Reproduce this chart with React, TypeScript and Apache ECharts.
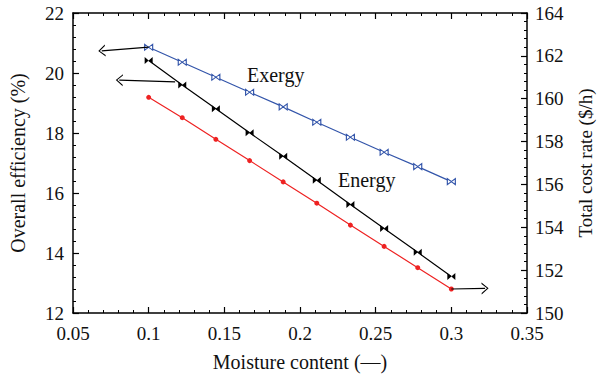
import React, { useEffect, useRef } from "react";
import * as echarts from "echarts";

const moisture = [0.1, 0.1222, 0.1444, 0.1667, 0.1889, 0.2111, 0.2333, 0.2556, 0.2778, 0.3];
const exergyEff = [20.86, 20.36, 19.86, 19.36, 18.87, 18.36, 17.86, 17.36, 16.88, 16.38];
const energyEff = [19.19, 18.51, 17.79, 17.08, 16.37, 15.66, 14.93, 14.22, 13.51, 12.8];
const costRate = [161.78, 160.64, 159.53, 158.41, 157.31, 156.19, 155.06, 153.94, 152.83, 151.7];

// arrow annotations (data coordinates): [start, end]
const exergyArrow = [[0.1, 20.86], [0.069, 20.74]];
const costArrow = [[0.1175, 160.79], [0.0806, 160.87]];
const energyArrow = [[0.3, 12.8], [0.3223, 12.82]];

const xTicks = { min: 0.05, max: 0.35, interval: 0.05 };
const leftTicks = { min: 12, max: 22, interval: 2 };
const rightTicks = { min: 150, max: 164, interval: 2 };

const FONT = "Liberation Serif";
const chevron = "path://M5,0 L10,10 L8.8,10 L5,2.2 L1.2,10 L0,10 Z";
const bowtie = "path://M0,0 L0,10 L10,5 L20,10 L20,0 L10,5 Z";

const zip = (xs: number[], ys: number[]) => xs.map((x, i) => [x, ys[i]]);

function arrowLine(pts: number[][]) {
  return {
    silent: true,
    animation: false,
    symbol: ["none", chevron],
    symbolSize: [12, 7],
    label: { show: false },
    lineStyle: { color: "#000", width: 1.2, type: "solid" },
    emphasis: { disabled: true },
    data: [[{ coord: pts[0] }, { coord: pts[1] }]],
  };
}

const axisCommon = {
  axisLine: { show: true, lineStyle: { color: "#000", width: 1.5 } },
  axisTick: { show: true, inside: true, length: 6, lineStyle: { color: "#000", width: 1.2 } },
  minorTick: { show: true, splitNumber: 5, length: 3, lineStyle: { color: "#000", width: 1 } },
  splitLine: { show: false },
  nameTextStyle: { fontFamily: FONT, fontSize: 20, color: "#111" },
};

const tickLabel = { fontFamily: FONT, fontSize: 19, color: "#111" };

export default function App() {
  const ref = useRef<HTMLDivElement>(null);
  useEffect(() => {
    if (!ref.current) return;
    const chart = echarts.init(ref.current, null, { renderer: "svg" });
    chart.setOption({
      animation: false,
      backgroundColor: "#fff",
      grid: {
        left: 73,
        right: 71,
        top: 13,
        bottom: 64,
        containLabel: false,
        outerBoundsMode: "none",
      },
      xAxis: [
        {
          type: "value",
          position: "bottom",
          ...xTicks,
          ...axisCommon,
          name: "Moisture content (—)",
          nameLocation: "middle",
          nameGap: 39,
          axisLabel: {
            ...tickLabel,
            margin: 11,
            formatter: (v: number) => String(+v.toFixed(2)),
          },
        },
        {
          type: "value",
          position: "top",
          ...xTicks,
          ...axisCommon,
          axisLabel: { show: false },
        },
      ],
      yAxis: [
        {
          type: "value",
          position: "left",
          ...leftTicks,
          ...axisCommon,
          name: "Overall efficiency (%)",
          nameLocation: "middle",
          nameRotate: 90,
          nameGap: 45,
          axisLabel: { ...tickLabel, margin: 9 },
        },
        {
          type: "value",
          position: "right",
          ...rightTicks,
          ...axisCommon,
          name: "Total cost rate ($/h)",
          nameLocation: "middle",
          nameRotate: 90,
          nameGap: 49,
          nameTextStyle: { fontFamily: FONT, fontSize: 19, color: "#111" },
          axisLabel: { ...tickLabel, margin: 8 },
        },
      ],
      series: [
        {
          name: "Exergy",
          type: "line",
          xAxisIndex: 0,
          yAxisIndex: 0,
          data: zip(moisture, exergyEff),
          symbol: bowtie,
          symbolSize: [8, 6],
          lineStyle: { color: "#3355aa", width: 1.2 },
          itemStyle: { color: "#fff", borderColor: "#3355aa", borderWidth: 1 },
          markLine: arrowLine(exergyArrow),
        },
        {
          name: "Energy",
          type: "line",
          xAxisIndex: 0,
          yAxisIndex: 0,
          data: zip(moisture, energyEff),
          symbol: "circle",
          symbolSize: 5,
          lineStyle: { color: "#ee2222", width: 1.2 },
          itemStyle: { color: "#ee2222" },
          markLine: arrowLine(energyArrow),
        },
        {
          name: "Total cost rate",
          type: "line",
          xAxisIndex: 0,
          yAxisIndex: 1,
          data: zip(moisture, costRate),
          symbol: bowtie,
          symbolSize: [8, 7],
          lineStyle: { color: "#000", width: 1.2 },
          itemStyle: { color: "#000" },
          markLine: arrowLine(costArrow),
        },
      ],
      graphic: [
        {
          type: "text",
          x: 247,
          y: 65,
          style: { text: "Exergy", font: `20px "${FONT}"`, fill: "#111", verticalAlign: "top" },
        },
        {
          type: "text",
          x: 338,
          y: 170,
          style: { text: "Energy", font: `20px "${FONT}"`, fill: "#111", verticalAlign: "top" },
        },
      ],
    });
    return () => chart.dispose();
  }, []);
  return (
    <div
      ref={ref}
      style={{ position: "fixed", left: 0, top: 0, width: 598, height: 377 }}
    />
  );
}
